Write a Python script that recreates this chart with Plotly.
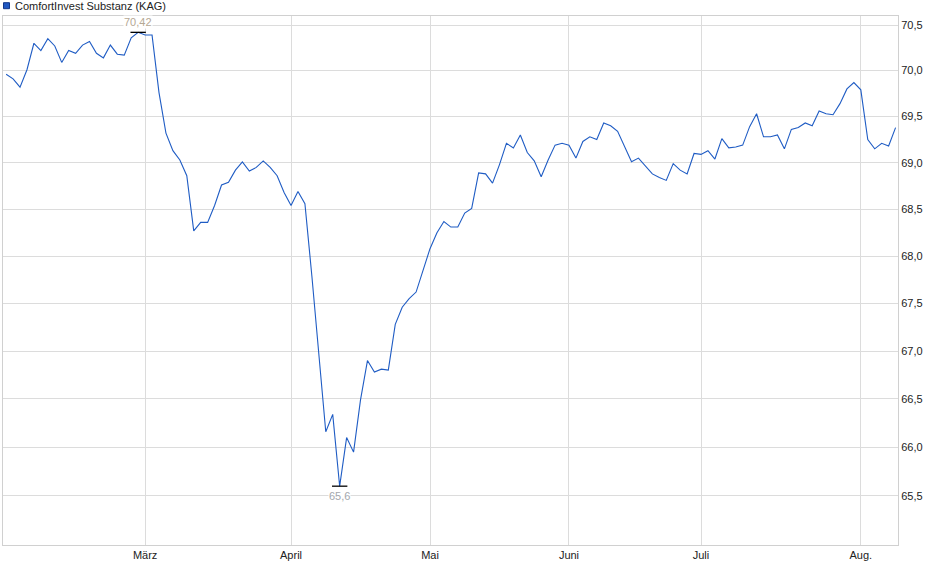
import math
import pandas as pd
import plotly.graph_objects as go

# trading days Feb 3 - Aug 8 2025 (German exchange holidays removed)
holidays = ["2025-04-18", "2025-04-21", "2025-05-01", "2025-05-29", "2025-06-09", "2025-06-19"]
days = pd.bdate_range("2025-02-03", "2025-08-08")
days = days[~days.isin(pd.to_datetime(holidays))]
dates = [d.strftime("%Y-%m-%d") for d in days]

prices = [
    69.96, 69.91, 69.82, 70.01, 70.30, 70.22, 70.35, 70.27, 70.09, 70.22,
    70.19, 70.28, 70.32, 70.19, 70.14, 70.28, 70.18, 70.17, 70.36, 70.42,
    70.39, 70.39, 69.76, 69.32, 69.13, 69.03, 68.86, 68.27, 68.36, 68.36,
    68.54, 68.76, 68.79, 68.92, 69.01, 68.91, 68.95, 69.02, 68.95, 68.86,
    68.68, 68.54, 68.69, 68.56, 67.79, 66.95, 66.16, 66.34, 65.60, 66.10,
    65.95, 66.49, 66.90, 66.78, 66.81, 66.80, 67.28, 67.46, 67.55, 67.62,
    67.86, 68.08, 68.25, 68.37, 68.31, 68.31, 68.46, 68.51, 68.89, 68.88,
    68.78, 68.98, 69.21, 69.16, 69.30, 69.11, 69.02, 68.85, 69.03, 69.19,
    69.21, 69.19, 69.05, 69.23, 69.28, 69.25, 69.43, 69.40, 69.34, 69.18,
    69.01, 69.05, 68.96, 68.88, 68.84, 68.81, 68.99, 68.92, 68.88, 69.10,
    69.09, 69.13, 69.04, 69.26, 69.16, 69.17, 69.19, 69.39, 69.53, 69.28,
    69.28, 69.30, 69.15, 69.36, 69.38, 69.43, 69.40, 69.56, 69.53, 69.52,
    69.64, 69.80, 69.87, 69.79, 69.25, 69.15, 69.21, 69.18, 69.38,
]

month_ticks = ["2025-03-03", "2025-04-01", "2025-05-02", "2025-06-02", "2025-07-01", "2025-08-01"]
month_labels = ["März", "April", "Mai", "Juni", "Juli", "Aug."]
y_ticks = [65.5, 66.0, 66.5, 67.0, 67.5, 68.0, 68.5, 69.0, 69.5, 70.0, 70.5]
series_name = "ComfortInvest Substanz (KAG)"

FONT = "Liberation Sans, Arial, sans-serif"
GRID = "#dcdcdc"
BLUE = "#1f5cc4"

i_max = prices.index(max(prices))
i_min = prices.index(min(prices))

fig = go.Figure()
fig.add_trace(go.Scatter(
    x=dates, y=prices, mode="lines",
    line=dict(color=BLUE, width=1.1),
    hoverinfo="x+y", showlegend=False,
))
# black high / low markers
fig.add_trace(go.Scatter(
    x=[dates[i_max], dates[i_min]], y=[prices[i_max], prices[i_min]],
    mode="markers",
    marker=dict(symbol="line-ew", size=11, line=dict(color="black", width=1.3)),
    hoverinfo="skip", showlegend=False,
))

fig.add_annotation(
    x=dates[i_max], y=math.log10(prices[i_max]), text=f"{prices[i_max]:.2f}".replace(".", ","),
    showarrow=False, yshift=10, font=dict(family=FONT, size=11, color="#b5a894"),
    bgcolor="white", borderpad=0,
)
fig.add_annotation(
    x=dates[i_min], y=math.log10(prices[i_min]), text=f"{prices[i_min]:.1f}".replace(".", ","),
    showarrow=False, yshift=-10, font=dict(family=FONT, size=11, color="#a3a7ad"),
    bgcolor="white", borderpad=0,
)

# legend: square + title
fig.add_shape(
    type="rect", xref="paper", yref="paper", xsizemode="pixel", ysizemode="pixel",
    xanchor=0, yanchor=1, x0=0.5, x1=6.5, y0=7.3, y1=13.3,
    fillcolor="#2058c2", line=dict(color="#12378a", width=1),
)
fig.add_annotation(
    xref="paper", yref="paper", x=0, y=1, xanchor="left", yanchor="middle",
    xshift=10, yshift=10, text=series_name, showarrow=False,
    font=dict(family=FONT, size=11, color="#222222"),
)

fig.update_xaxes(
    type="category", range=[-0.45, len(dates) - 0.65],
    tickmode="array", tickvals=month_ticks, ticktext=month_labels,
    showgrid=True, gridcolor=GRID, gridwidth=1,
    showline=True, linecolor="#d0d0d0", mirror=True,
    ticks="", tickfont=dict(family=FONT, size=11, color="#222222"),
    zeroline=False,
)
fig.update_yaxes(
    type="log", side="right",
    range=[math.log10(65.0), math.log10(70.6)],
    tickmode="array", tickvals=y_ticks,
    ticktext=[f"{v:.1f}".replace(".", ",") for v in y_ticks],
    showgrid=True, gridcolor=GRID, gridwidth=1,
    showline=True, linecolor="#d0d0d0", mirror=True,
    ticks="", tickfont=dict(family=FONT, size=11, color="#222222"),
    zeroline=False,
)
fig.update_layout(
    width=940, height=579,
    margin=dict(l=3, r=42, t=16, b=34),
    paper_bgcolor="white", plot_bgcolor="white",
    font=dict(family=FONT, size=11),
    showlegend=False,
)

# the page body has a default margin; remove it so the figure sits at 0,0
fig.write_html(
    "out.html",
    config={"displayModeBar": False},
    post_script="document.body.style.margin='0';",
)
